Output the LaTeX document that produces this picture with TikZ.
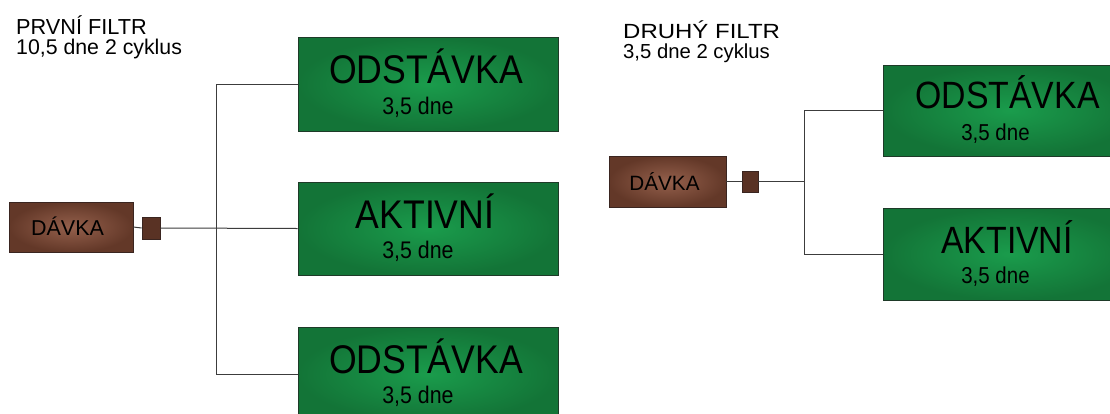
\documentclass[tikz,border=0pt]{standalone}
\usepackage{fontspec}
\setmainfont{Liberation Sans}
\newfontfamily\boxfont[FakeStretch=0.89]{Liberation Sans}
\newfontfamily\widefont[FakeStretch=1.17]{Liberation Sans}
\usetikzlibrary{calc}
\definecolor{grnin}{HTML}{1A9C4C}
\definecolor{grnout}{HTML}{137437}
\definecolor{grnline}{HTML}{1E3A28}
\definecolor{brnin}{HTML}{94604C}
\definecolor{brnout}{HTML}{633828}
\definecolor{brnline}{HTML}{3A2520}
\definecolor{conn}{HTML}{3C3C3C}
\tikzset{
  greenbox/.style={draw=grnline, line width=0.9pt, inner color=grnin, outer color=grnout, rectangle, inner sep=0pt},
  brownbox/.style={draw=brnline, line width=0.9pt, inner color=brnin, outer color=brnout, rectangle, inner sep=0pt},
  joint/.style={draw=brnline, line width=0.9pt, fill=brnout!90!black, rectangle, inner sep=0pt, minimum width=18pt, minimum height=22pt},
  wire/.style={draw=conn, line width=1pt},
  bigtxt/.style={anchor=base, inner sep=0pt, font=\boxfont\fontsize{40}{40}\selectfont},
  smalltxt/.style={anchor=base, inner sep=0pt, font=\boxfont\fontsize{24}{24}\selectfont},
  titletxt/.style={anchor=base west, inner sep=0pt, align=left},
}
\begin{document}
\begin{tikzpicture}[x=1pt,y=-1pt]
\clip (0,0) rectangle (1110,413);
\fill[white] (0,0) rectangle (1110,413);

% ---------- left filter ----------
\node[titletxt, font=\fontsize{21.7}{20}\selectfont] (t1a) at (16,34) {PRVNÍ FILTR};
\node[titletxt, font=\fontsize{21.3}{20}\selectfont] (t1b) at (16,54) {10,5 dne 2 cyklus};

\node[brownbox, minimum width=124pt, minimum height=50pt] (d1) at (71,227) {};
\node[anchor=base, inner sep=0pt, font=\fontsize{21.5}{20}\selectfont] (d1t) at (67.5,235.5) {DÁVKA};
\node[joint] (j1) at (151,228) {};

\node[greenbox, minimum width=260pt, minimum height=94pt] (g1) at (428,84) {};
\node[greenbox, minimum width=260pt, minimum height=93pt] (g2) at (428,228.5) {};
\node[greenbox, minimum width=260pt, minimum height=94pt] (g3) at (428,374) {};

\node[bigtxt] (g1a) at (426,83) {ODSTÁVKA};
\node[smalltxt] (g1b) at (418,114) {3,5 dne};
\node[bigtxt] (g2a) at (425,228) {AKTIVNÍ};
\node[smalltxt] (g2b) at (418,258) {3,5 dne};
\node[bigtxt] (g3a) at (426,373) {ODSTÁVKA};
\node[smalltxt] (g3b) at (418,403) {3,5 dne};

\coordinate (v1) at (216,0);
\draw[wire] (d1.east) -- (j1.west);
\draw[wire] (j1.east) -- (g2.west);
\draw[wire] (g1.west) -- (g1.west -| v1) -- (g3.west -| v1) -- (g3.west);

% ---------- right filter ----------
\node[titletxt, font=\widefont\fontsize{20.5}{20}\selectfont] (t2a) at (623,38.5) {DRUHÝ FILTR};
\node[titletxt, font=\fontsize{20.3}{20}\selectfont] (t2b) at (623,58.5) {3,5 dne 2 cyklus};

\node[brownbox, minimum width=117pt, minimum height=51pt] (d2) at (667.5,181.5) {};
\node[anchor=base, inner sep=0pt, font=\fontsize{20.7}{20}\selectfont] (d2t) at (664.5,190) {DÁVKA};
\node[joint, minimum width=16pt, minimum height=21pt] (j2) at (750,181.5) {};

\node[greenbox, minimum width=255pt, minimum height=91pt] (h1) at (1010.5,110.5) {};
\node[greenbox, minimum width=255pt, minimum height=92pt] (h2) at (1010.5,254) {};

\node[bigtxt, font=\boxfont\fontsize{38}{38}\selectfont] (h1a) at (1007.5,108) {ODSTÁVKA};
\node[smalltxt, font=\boxfont\fontsize{23}{23}\selectfont] (h1b) at (995.5,140) {3,5 dne};
\node[bigtxt, font=\boxfont\fontsize{38}{38}\selectfont] (h2a) at (1007,253) {AKTIVNÍ};
\node[smalltxt, font=\boxfont\fontsize{23}{23}\selectfont] (h2b) at (995.5,283) {3,5 dne};

\coordinate (v2) at (804,0);
\draw[wire] (d2.east) -- (j2.west);
\draw[wire] (j2.east) -- (j2.east -| v2);
\draw[wire] (h1.west) -- (h1.west -| v2) -- (h2.west -| v2) -- (h2.west);
\end{tikzpicture}
\end{document}
